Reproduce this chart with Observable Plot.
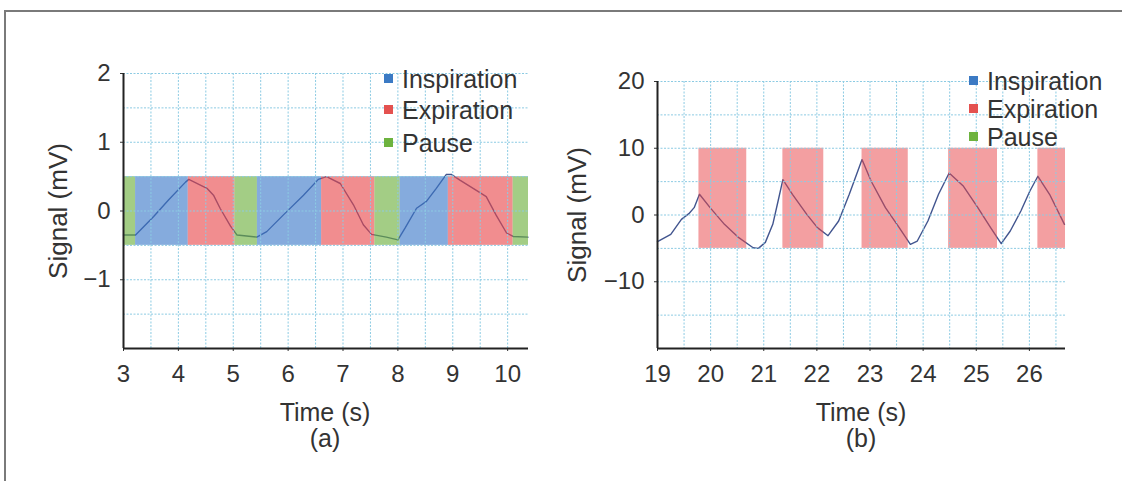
<!DOCTYPE html>
<html>
<head>
<meta charset="utf-8">
<script src="https://cdn.jsdelivr.net/npm/d3@7"></script>
<script src="https://cdn.jsdelivr.net/npm/@observablehq/plot@0.6"></script>
<style>
  body { margin: 0; background: #fff; }
  #fig { position: relative; width: 1122px; height: 481px; overflow: hidden; background: #fff;
         font-family: "Liberation Sans", Arial, sans-serif; color: #333; }
  #frame { position: absolute; left: 4px; top: 10px; width: 1200px; height: 600px;
           border-left: 2px solid #7a7a7a; border-top: 2px solid #7a7a7a; }
  .panel { position: absolute; top: 0; }
  .cap { position: absolute; font-size: 25px; line-height: 1; white-space: nowrap; transform: translateX(-50%); }
  .key { position: absolute; font-size: 25px; line-height: 1; white-space: nowrap; color: #333; }
  .sw { position: absolute; width: 9px; height: 9px; }
</style>
</head>
<body>
<div id="fig">
  <div id="frame"></div>
  <div class="panel" id="panelA" style="left:0px"></div>
  <div class="panel" id="panelB" style="left:560px"></div>
</div>
<script>
// ---- shared phase legend ----
const phaseNames = ["Inspiration", "Expiration", "Pause"];
const phaseColors = ["#3a78c8", "#e8474a", "#6aaf3a"];
const swatchColors = ["#3b7ac4", "#e4514f", "#6db33f"];

// ---- panel (a): respiration signal, 3–10.4 s ----
const timeA = [3.0, 3.22, 3.55, 3.82, 4.13, 4.19, 4.52, 4.64, 4.76, 4.95, 5.07, 5.43, 5.61, 5.91, 6.28, 6.55,
               6.7, 6.95, 7.19, 7.37, 7.52, 7.79, 8.0, 8.13, 8.34, 8.52, 8.7, 8.88, 8.98, 9.13, 9.43, 9.61,
               9.79, 9.98, 10.1, 10.37];
const signalA = [-0.35, -0.35, -0.08, 0.16, 0.42, 0.46, 0.33, 0.23, 0.04, -0.22, -0.35, -0.38, -0.3, -0.06, 0.23, 0.46,
                 0.5, 0.4, 0.09, -0.2, -0.34, -0.38, -0.42, -0.25, 0.04, 0.14, 0.33, 0.53, 0.53, 0.45, 0.3, 0.21,
                 -0.06, -0.32, -0.37, -0.38];
const phaseStartA = [3.0, 3.22, 4.18, 5.03, 5.44, 6.61, 7.58, 8.04, 8.92, 10.1];
const phaseEndA   = [3.22, 4.18, 5.03, 5.44, 6.61, 7.58, 8.04, 8.92, 10.1, 10.38];
const phaseKindA  = ["Pause", "Inspiration", "Expiration", "Pause", "Inspiration", "Expiration",
                     "Pause", "Inspiration", "Expiration", "Pause"];
const bandA = [-0.5, 0.5];
const xDomainA = [3, 10.38];
const yDomainA = [-2, 2];
const xTicksA = [3, 4, 5, 6, 7, 8, 9, 10];
const yTicksA = [-1, 0, 1, 2];
const xGridA = [3.5, 4, 4.5, 5, 5.5, 6, 6.5, 7, 7.5, 8, 8.5, 9, 9.5, 10];
const yGridA = [-1.5, -1, -0.5, 0, 0.5, 1, 1.5, 2];

// ---- panel (b): respiration signal, 19–26.7 s ----
const timeB = [19.0, 19.25, 19.45, 19.59, 19.69, 19.79, 19.99, 20.26, 20.53, 20.8, 20.9, 21.03, 21.17, 21.27, 21.36,
               21.54, 21.81, 22.01, 22.21, 22.41, 22.61, 22.85, 23.02, 23.29, 23.55, 23.76, 23.89, 24.09, 24.29,
               24.49, 24.76, 25.03, 25.27, 25.47, 25.64, 25.84, 26.01, 26.16, 26.38, 26.66];
const signalB = [-4.0, -2.9, -0.65, 0.2, 1.1, 3.1, 1.1, -1.4, -3.4, -4.9, -5.0, -4.1, -1.4, 2.1, 5.3,
                 3.1, 0.1, -1.9, -3.1, -0.9, 3.1, 8.3, 5.1, 1.1, -1.9, -4.4, -3.9, -0.9, 3.1,
                 6.3, 4.3, 1.1, -1.9, -4.3, -2.4, 0.6, 3.6, 5.8, 3.1, -1.4];
const phaseStartB = [19.78, 21.36, 22.85, 24.48, 26.16];
const phaseEndB   = [20.68, 22.13, 23.72, 25.40, 26.68];
const phaseKindB  = ["Expiration", "Expiration", "Expiration", "Expiration", "Expiration"];
const bandB = [-5, 10];
const xDomainB = [19, 26.68];
const yDomainB = [-20, 20];
const xTicksB = [19, 20, 21, 22, 23, 24, 25, 26];
const yTicksB = [-10, 0, 10, 20];
const xGridB = [19.5, 20, 20.5, 21, 21.5, 22, 22.5, 23, 23.5, 24, 24.5, 25, 25.5, 26, 26.5];
const yGridB = [-15, -10, -5, 0, 5, 10, 15, 20];

const font = "'Liberation Sans', Arial, sans-serif";
const gridStyle = {stroke: "#8ccbe3", strokeOpacity: 1, strokeWidth: 1, strokeDasharray: "2,1.5"};
const tickFormat = d => (d < 0 ? "\u2212" + Math.abs(d) : String(d));

function panel({time, signal, starts, ends, kinds, band, xDomain, yDomain, xTicks, yTicks, xGrid, yGrid,
                width, marginLeft, marginRight, marginTop, labelOffset, bandOpacity}) {
  const points = time.map((t, i) => ({t, v: signal[i]}));
  const phases = starts.map((s, i) => ({start: s, end: ends[i], kind: kinds[i], lo: band[0], hi: band[1]}));
  return Plot.plot({
    width, height: 430,
    marginTop, marginLeft, marginRight, marginBottom: 82,
    style: {fontFamily: font, fontSize: "24px", color: "#333", background: "transparent", overflow: "visible"},
    x: {domain: xDomain},
    y: {domain: yDomain},
    color: {domain: phaseNames, range: phaseColors},
    marks: [
      Plot.line(points, {x: "t", y: "v", stroke: "#42558f", strokeWidth: 1.4}),
      Plot.rect(phases, {x1: "start", x2: "end", y1: "lo", y2: "hi", fill: "kind", fillOpacity: bandOpacity}),
      Plot.gridX(xGrid, gridStyle),
      Plot.gridY(yGrid, gridStyle),
      Plot.axisX(xTicks, {tickSize: 3, tickPadding: 13, label: null, stroke: "#333", fontSize: 24, tickFormat}),
      Plot.axisY(yTicks, {tickSize: 3, tickPadding: 10, stroke: "#333", fontSize: 24, tickFormat,
                          label: "Signal (mV)", labelAnchor: "center", labelOffset, labelArrow: "none"}),
      Plot.ruleX([xDomain[0]], {stroke: "#222", strokeWidth: 2}),
      Plot.ruleY([yDomain[0]], {stroke: "#222", strokeWidth: 2})
    ]
  });
}

const chartA = panel({time: timeA, signal: signalA, starts: phaseStartA, ends: phaseEndA, kinds: phaseKindA,
  band: bandA, xDomain: xDomainA, yDomain: yDomainA, xTicks: xTicksA, yTicks: yTicksA, xGrid: xGridA, yGrid: yGridA,
  width: 560, marginLeft: 123, marginRight: 32, marginTop: 73, labelOffset: 75, bandOpacity: 0.62});
chartA.querySelectorAll("[aria-label='y-axis label'] text").forEach(t => t.setAttribute("font-size", 26));
document.getElementById("panelA").appendChild(chartA);

const chartB = panel({time: timeB, signal: signalB, starts: phaseStartB, ends: phaseEndB, kinds: phaseKindB,
  band: bandB, xDomain: xDomainB, yDomain: yDomainB, xTicks: xTicksB, yTicks: yTicksB, xGrid: xGridB, yGrid: yGridB,
  width: 562, marginLeft: 97, marginRight: 57, marginTop: 81, labelOffset: 90, bandOpacity: 0.52});
chartB.querySelectorAll("[aria-label='y-axis label'] text").forEach(t => t.setAttribute("font-size", 26));
document.getElementById("panelB").appendChild(chartB);

// ---- captions and legends (HTML, absolutely placed over the figure) ----
const fig = document.getElementById("fig");
function addCaption(text, cx, top) {
  const d = document.createElement("div");
  d.className = "cap"; d.textContent = text;
  d.style.left = cx + "px"; d.style.top = top + "px";
  fig.appendChild(d);
}
addCaption("Time (s)", 325, 400);
addCaption("(a)", 325, 426);
addCaption("Time (s)", 861, 400);
addCaption("(b)", 861, 426);

function addLegend(x, rows) {
  phaseNames.forEach((name, i) => {
    const cy = rows[i];
    const sw = document.createElement("div");
    sw.className = "sw"; sw.style.background = swatchColors[i];
    sw.style.left = (x - 18) + "px"; sw.style.top = (cy - 5) + "px";
    fig.appendChild(sw);
    const t = document.createElement("div");
    t.className = "key"; t.textContent = name;
    t.style.left = x + "px"; t.style.top = (cy - 12) + "px";
    fig.appendChild(t);
  });
}
addLegend(402, [79, 110, 143]);
addLegend(987, [81, 109, 137]);
</script>
</body>
</html>
